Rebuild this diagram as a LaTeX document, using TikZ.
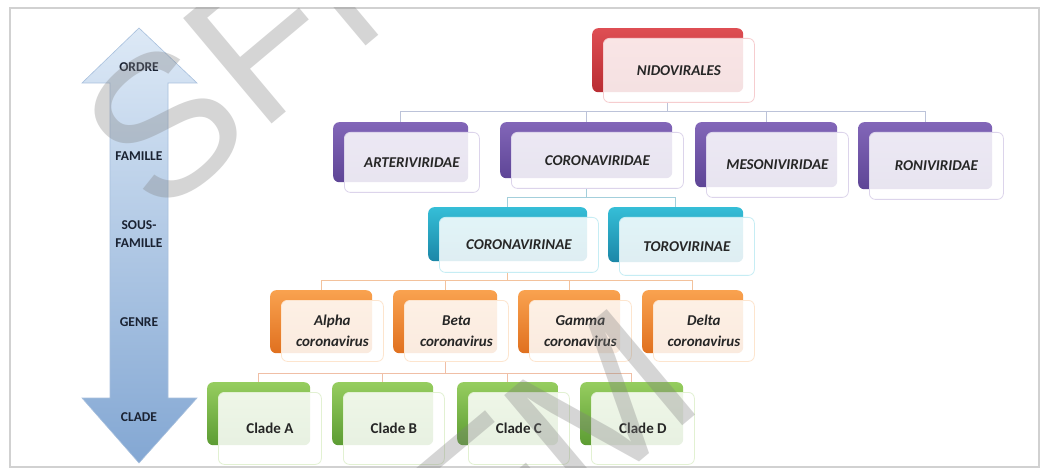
\documentclass[tikz,border=0pt]{standalone}
\usepackage{fontspec}
\setmainfont{Carlito}
\newfontfamily\markfont{Liberation Sans}
\usetikzlibrary{calc}

% colour schemes: back panel gradient (Top/Bot)
\definecolor{redTop}{HTML}{DE4E53}
\definecolor{redBot}{HTML}{B92D33}
\definecolor{purTop}{HTML}{8266B8}
\definecolor{purBot}{HTML}{5E4596}
\definecolor{tealTop}{HTML}{35BED7}
\definecolor{tealBot}{HTML}{1B87A7}
\definecolor{orgTop}{HTML}{F9A24F}
\definecolor{orgBot}{HTML}{E0701F}
\definecolor{grnTop}{HTML}{96CD5F}
\definecolor{grnBot}{HTML}{5C9C33}
\definecolor{arrowTop}{HTML}{DDE9F6}
\definecolor{arrowBot}{HTML}{83A7D3}
\definecolor{arrowEdge}{HTML}{A8C0DD}
\definecolor{textgray}{HTML}{262626}
\definecolor{labelink}{HTML}{1A2232}
\definecolor{linkA}{HTML}{BCC3D9}
\definecolor{linkB}{HTML}{A3CFDB}
\definecolor{linkC}{HTML}{F3C29C}
\definecolor{linkD}{HTML}{F0BFA6}
\definecolor{markgray}{HTML}{808080}

\tikzset{
  backbox/.style={rectangle, rounded corners=6pt, inner sep=0pt, anchor=north west,
    top color=#1Top, bottom color=#1Bot, draw=none},
  frontbox/.style={rectangle, rounded corners=6pt, inner sep=0pt, anchor=north west,
    fill=white, fill opacity=0.86, text opacity=1, draw=#1Top!28, line width=0.8pt,
    align=center, text=textgray, font=\bfseries\itshape\fontsize{15}{21}\selectfont},
  ranklabel/.style={align=center, text=labelink, font=\bfseries\fontsize{13.5}{18}\selectfont},
  link/.style={draw=#1, line width=0.8pt},
  frameline/.style={draw=black!18, line width=1.6pt},
  watermark/.style={rotate=40, inner sep=0pt, text=markgray, text opacity=0.33,
    font=\markfont\fontsize{200}{200}\selectfont},
}

% name, x, y (back panel top left), width, back height, front height, scheme, text
\newcommand\orgbox[8]{%
  \node[backbox=#7, minimum width=#4pt, minimum height=#5pt] (#1b) at (#2,#3) {};
  \node[frontbox=#7, minimum width=#4pt, minimum height=#6pt] (#1) at ($(#1b.north west)+(11,10)$) {#8};
}

\begin{document}
\begin{tikzpicture}[x=1pt,y=-1pt]
\useasboundingbox (0,0) rectangle (1041,470);
\fill[white] (0,0) rectangle (1041,470);
\draw[frameline] (10,8) rectangle (1039,467);

% rank arrow
\path[top color=arrowTop, bottom color=arrowBot, draw=arrowEdge, line width=0.6pt]
  (139,28) -- (197,83) -- (168,83) -- (168,398) -- (197,398) -- (139,463)
  -- (82,398) -- (110,398) -- (110,83) -- (82,83) -- cycle;
\node[ranklabel] (ordre) at (139,67) {ORDRE};
\node[ranklabel] (famille) at (139,156) {FAMILLE};
\node[ranklabel] (sousfam) at (139,234) {SOUS-\\FAMILLE};
\node[ranklabel] (genre) at (139,322) {GENRE};
\node[ranklabel] (clade) at (139,417) {CLADE};

% connector levels
\coordinate (bar1) at (0,111);
\coordinate (bar2) at (0,197);
\coordinate (bar3) at (0,280);
\coordinate (bar4) at (0,373);

% boxes
\orgbox{nido}{592}{28}{151}{64}{64}{red}{NIDOVIRALES}
\orgbox{arte}{333}{122}{135}{60}{60}{pur}{ARTERIVIRIDAE}
\orgbox{corf}{500}{122}{172}{56}{56}{pur}{CORONAVIRIDAE}
\orgbox{meso}{695}{122}{142}{65}{65}{pur}{MESONIVIRIDAE}
\orgbox{roni}{858}{122}{134}{67}{67}{pur}{RONIVIRIDAE}
\orgbox{corn}{428}{207}{159}{54}{55}{teal}{CORONAVIRINAE}
\orgbox{toro}{608}{207}{135}{55}{58}{teal}{TOROVIRINAE}
\orgbox{alpha}{270}{290}{102}{63}{61}{org}{Alpha\\coronavirus}
\orgbox{beta}{393}{290}{104}{63}{61}{org}{Beta\\coronavirus}
\orgbox{gamma}{518}{290}{102}{63}{61}{org}{Gamma\\coronavirus}
\orgbox{delta}{642}{290}{101}{63}{61}{org}{Delta\\coronavirus}
\orgbox{cla}{207}{382}{103}{63}{72}{grn}{\upshape Clade A}
\orgbox{clb}{332}{382}{101}{63}{72}{grn}{\upshape Clade B}
\orgbox{clc}{457}{382}{101}{63}{72}{grn}{\upshape Clade C}
\orgbox{cld}{580}{382}{103}{63}{72}{grn}{\upshape Clade D}

% connectors
\draw[link=linkA] (nidob.center |- nido.south) -- (nidob.center |- bar1);
\draw[link=linkA] (arteb.north) -- (arteb.north |- bar1) -- (ronib.north |- bar1) -- (ronib.north);
\draw[link=linkA] (corfb.north) -- (corfb.north |- bar1);
\draw[link=linkA] (mesob.north) -- (mesob.north |- bar1);

\draw[link=linkB] (corfb.center |- corf.south) -- (corfb.center |- bar2);
\draw[link=linkB] (cornb.north) -- (cornb.north |- bar2) -- (torob.north |- bar2) -- (torob.north);

\draw[link=linkC] (cornb.center |- corn.south) -- (cornb.center |- bar3);
\draw[link=linkC] (alphab.north) -- (alphab.north |- bar3) -- (deltab.north |- bar3) -- (deltab.north);
\draw[link=linkC] (betab.north) -- (betab.north |- bar3);
\draw[link=linkC] (gammab.north) -- (gammab.north |- bar3);

\draw[link=linkD] (betab.center |- beta.south) -- (betab.center |- bar4);
\draw[link=linkD] (clab.north) -- (clab.north |- bar4) -- (cldb.north |- bar4) -- (cldb.north);
\draw[link=linkD] (clbb.north) -- (clbb.north |- bar4);
\draw[link=linkD] (clcb.north) -- (clcb.north |- bar4);

% watermark
\begin{scope}
  \clip (10,8) rectangle (1039,467);
  \node[watermark] (wmtop) at (275,32) {SFM};
  \node[watermark] (wmbottom) at (502,487) {SFM};
\end{scope}
\end{tikzpicture}
\end{document}
